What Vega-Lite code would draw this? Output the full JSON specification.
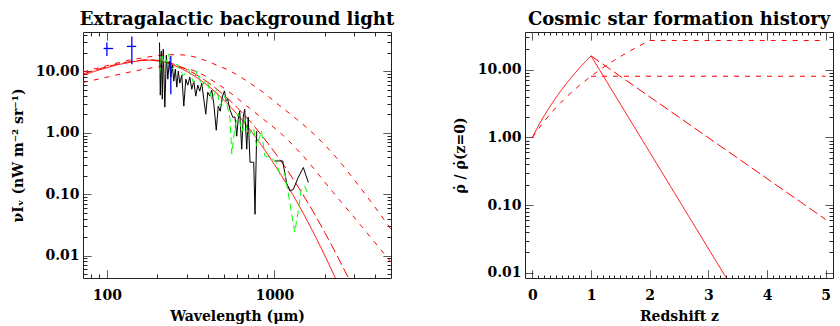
{
  "$schema": "https://vega.github.io/schema/vega-lite/v6.json",
  "background": "white",
  "padding": {"left": 10, "top": 10, "right": 5, "bottom": 2},
  "spacing": 57,
  "config": {
    "font": "DejaVu Serif",
    "view": {"stroke": "#222", "strokeWidth": 1},
    "title": {"font": "DejaVu Serif", "fontSize": 18, "fontWeight": "bold", "color": "black", "offset": 3},
    "axis": {"labelFont": "DejaVu Serif", "labelFontSize": 14, "labelFontWeight": "bold", "labelColor": "black", "titleFont": "DejaVu Serif", "titleFontSize": 14, "titleFontWeight": "bold", "titleColor": "black", "domain": false, "grid": false, "tickColor": "#222", "tickWidth": 1, "tickSize": -8}
  },
  "hconcat": [
    {
      "width": 308, "height": 246,
      "title": "Extragalactic background light",
      "resolve": {"axis": {"x": "independent", "y": "independent"}},
      "layer": [
        {
          "data": {"values": [
            {"s": "S", "lam": 72, "v": 8.67}, {"s": "S", "lam": 80, "v": 9.56}, {"s": "S", "lam": 90, "v": 10.6}, {"s": "S", "lam": 100, "v": 11.5}, {"s": "S", "lam": 115, "v": 12.8}, {"s": "S", "lam": 130, "v": 13.7}, {"s": "S", "lam": 150, "v": 14.7}, {"s": "S", "lam": 175, "v": 15.3}, {"s": "S", "lam": 200, "v": 14.9}, {"s": "S", "lam": 250, "v": 12.7}, {"s": "S", "lam": 300, "v": 10.0}, {"s": "S", "lam": 400, "v": 5.89}, {"s": "S", "lam": 500, "v": 3.40}, {"s": "S", "lam": 600, "v": 2.00}, {"s": "S", "lam": 700, "v": 1.21}, {"s": "S", "lam": 800, "v": 0.743}, {"s": "S", "lam": 1000, "v": 0.306}, {"s": "S", "lam": 1200, "v": 0.137}, {"s": "S", "lam": 1400, "v": 0.0659}, {"s": "S", "lam": 1700, "v": 0.0244}, {"s": "S", "lam": 2000, "v": 0.0100}, {"s": "S", "lam": 2400, "v": 0.00345},
            {"s": "L", "lam": 72, "v": 9.10}, {"s": "L", "lam": 80, "v": 10.0}, {"s": "L", "lam": 90, "v": 11.03}, {"s": "L", "lam": 100, "v": 11.93}, {"s": "L", "lam": 115, "v": 13.1}, {"s": "L", "lam": 130, "v": 14.07}, {"s": "L", "lam": 150, "v": 14.97}, {"s": "L", "lam": 175, "v": 15.56}, {"s": "L", "lam": 200, "v": 15.2}, {"s": "L", "lam": 250, "v": 13.2}, {"s": "L", "lam": 300, "v": 10.74}, {"s": "L", "lam": 400, "v": 6.69}, {"s": "L", "lam": 500, "v": 4.12}, {"s": "L", "lam": 600, "v": 2.58}, {"s": "L", "lam": 700, "v": 1.65}, {"s": "L", "lam": 800, "v": 1.07}, {"s": "L", "lam": 1000, "v": 0.49}, {"s": "L", "lam": 1200, "v": 0.241}, {"s": "L", "lam": 1400, "v": 0.126}, {"s": "L", "lam": 1700, "v": 0.0524}, {"s": "L", "lam": 2000, "v": 0.0237}, {"s": "L", "lam": 2400, "v": 0.00925}, {"s": "L", "lam": 2780, "v": 0.0042}, {"s": "L", "lam": 3050, "v": 0.0025},
            {"s": "B", "lam": 72, "v": 6.62}, {"s": "B", "lam": 100, "v": 8.07}, {"s": "B", "lam": 131.6, "v": 9.56}, {"s": "B", "lam": 173.2, "v": 11.1}, {"s": "B", "lam": 212.7, "v": 11.97}, {"s": "B", "lam": 261.5, "v": 11.75}, {"s": "B", "lam": 344, "v": 9.92}, {"s": "B", "lam": 452, "v": 6.44}, {"s": "B", "lam": 543, "v": 4.54}, {"s": "B", "lam": 683, "v": 2.75}, {"s": "B", "lam": 859, "v": 1.67}, {"s": "B", "lam": 1079, "v": 1.01}, {"s": "B", "lam": 1422, "v": 0.477}, {"s": "B", "lam": 2249, "v": 0.106}, {"s": "B", "lam": 3316, "v": 0.0299}, {"s": "B", "lam": 4970, "v": 0.0078},
            {"s": "A", "lam": 72, "v": 9.85}, {"s": "A", "lam": 100, "v": 12.4}, {"s": "A", "lam": 131.6, "v": 15.0}, {"s": "A", "lam": 173.2, "v": 17.1}, {"s": "A", "lam": 212.7, "v": 18.4}, {"s": "A", "lam": 261.5, "v": 18.8}, {"s": "A", "lam": 344, "v": 16.9}, {"s": "A", "lam": 413, "v": 14.0}, {"s": "A", "lam": 543, "v": 10.2}, {"s": "A", "lam": 683, "v": 7.03}, {"s": "A", "lam": 859, "v": 4.54}, {"s": "A", "lam": 1079, "v": 2.75}, {"s": "A", "lam": 1358, "v": 1.67}, {"s": "A", "lam": 1559, "v": 1.22}, {"s": "A", "lam": 2249, "v": 0.448}, {"s": "A", "lam": 3316, "v": 0.12}, {"s": "A", "lam": 4970, "v": 0.0268}
          ]},
          "mark": {"type": "line", "color": "#ff0000", "strokeWidth": 1, "clip": true, "interpolate": "monotone"},
          "encoding": {
            "x": {"field": "lam", "type": "quantitative", "title": "Wavelength (\u03bcm)",
                  "scale": {"type": "log", "domain": [72, 4970], "nice": false},
                  "axis": {"orient": "bottom", "values": [80,90,100,200,300,400,500,600,700,800,900,1000,2000,3000,4000], "labelExpr": "datum.value == 100 || datum.value == 1000 ? datum.value : ''", "labelPadding": 18, "titlePadding": 7, "labelFlush": false,
                           "tickDash": {"condition": {"test": "datum.value == 100 || datum.value == 1000", "value": [1, 0]}, "value": [4, 20]}}},
            "y": {"field": "v", "type": "quantitative", "title": "\u03bdI\u1d65 (nW m\u207b\u00b2 sr\u207b\u00b9)",
                  "scale": {"type": "log", "domain": [0.0043, 44], "nice": false},
                  "axis": {"orient": "left", "values": [0.005,0.006,0.007,0.008,0.009,0.01,0.02,0.03,0.04,0.05,0.06,0.07,0.08,0.09,0.1,0.2,0.3,0.4,0.5,0.6,0.7,0.8,0.9,1,2,3,4,5,6,7,8,9,10,20,30,40], "labelExpr": "(datum.value == 0.01 || datum.value == 0.1 || datum.value == 1 || datum.value == 10) ? format(datum.value, '.2f') : ''", "labelPadding": 12, "titlePadding": 10, "labelFlush": false,
                           "tickDash": {"condition": {"test": "datum.value == 0.01 || datum.value == 0.1 || datum.value == 1 || datum.value == 10", "value": [1, 0]}, "value": [4, 20]}}},
            "strokeDash": {"field": "s", "type": "nominal", "legend": null, "scale": {"domain": ["S", "L", "B", "A"], "range": [[1, 0], [10, 4], [5, 6], [5, 6]]}}
          }
        },
        {
          "data": {"values": [
            {"g": 1, "lam": 206.2, "v": 29.7}, {"g": 1, "lam": 208.4, "v": 4.11}, {"g": 1, "lam": 211.3, "v": 21.4}, {"g": 1, "lam": 214.2, "v": 3.53}, {"g": 1, "lam": 217.1, "v": 23.1}, {"g": 1, "lam": 221.8, "v": 2.62}, {"g": 1, "lam": 226.4, "v": 18.4}, {"g": 1, "lam": 231.1, "v": 7.49}, {"g": 1, "lam": 235.9, "v": 14.7}, {"g": 1, "lam": 240.8, "v": 8.07}, {"g": 1, "lam": 245.8, "v": 12.7}, {"g": 1, "lam": 250.9, "v": 6.95}, {"g": 1, "lam": 256.2, "v": 10.9}, {"g": 1, "lam": 261.5, "v": 5.55}, {"g": 1, "lam": 266.9, "v": 10.1}, {"g": 1, "lam": 272.5, "v": 6.44}, {"g": 1, "lam": 280.0, "v": 8.71}, {"g": 1, "lam": 287.9, "v": 2.72}, {"g": 1, "lam": 295.9, "v": 7.49}, {"g": 1, "lam": 304.1, "v": 5.98}, {"g": 1, "lam": 312.6, "v": 8.07}, {"g": 1, "lam": 321.3, "v": 5.14}, {"g": 1, "lam": 330.3, "v": 6.95}, {"g": 1, "lam": 339.4, "v": 3.96}, {"g": 1, "lam": 348.8, "v": 5.98}, {"g": 1, "lam": 358.6, "v": 4.77}, {"g": 1, "lam": 368.6, "v": 6.44}, {"g": 1, "lam": 378.9, "v": 3.53}, {"g": 1, "lam": 389.4, "v": 2.01}, {"g": 1, "lam": 400.3, "v": 4.60}, {"g": 1, "lam": 411.4, "v": 3.96}, {"g": 1, "lam": 422.8, "v": 4.95}, {"g": 1, "lam": 434.5, "v": 3.04}, {"g": 1, "lam": 449.8, "v": 1.10}, {"g": 1, "lam": 462.3, "v": 2.72}, {"g": 1, "lam": 475.2, "v": 2.25}, {"g": 1, "lam": 488.4, "v": 3.81}, {"g": 1, "lam": 503.4, "v": 4.83}, {"g": 1, "lam": 516.0, "v": 3.28}, {"g": 1, "lam": 526.7, "v": 3.53}, {"g": 1, "lam": 541.4, "v": 2.43}, {"g": 1, "lam": 564.1, "v": 1.80}, {"g": 1, "lam": 582.2, "v": 1.80}, {"g": 1, "lam": 596.1, "v": 0.88}, {"g": 1, "lam": 608.4, "v": 1.67}, {"g": 1, "lam": 621.1, "v": 2.25}, {"g": 1, "lam": 638.3, "v": 0.54}, {"g": 1, "lam": 651.7, "v": 1.80}, {"g": 1, "lam": 665.3, "v": 2.43}, {"g": 1, "lam": 683.8, "v": 0.54}, {"g": 1, "lam": 698.1, "v": 1.80}, {"g": 1, "lam": 715.6, "v": 0.332}, {"g": 1, "lam": 737.5, "v": 0.332}, {"g": 1, "lam": 752.9, "v": 0.332}, {"g": 1, "lam": 766.3, "v": 0.047}, {"g": 1, "lam": 784.5, "v": 1.07},
            {"g": 2, "lam": 1008, "v": 0.348}, {"g": 2, "lam": 1121, "v": 0.348}, {"g": 2, "lam": 1184, "v": 0.150}, {"g": 2, "lam": 1239, "v": 0.113}, {"g": 2, "lam": 1298, "v": 0.120}, {"g": 2, "lam": 1390, "v": 0.189}, {"g": 2, "lam": 1489, "v": 0.272}, {"g": 2, "lam": 1595, "v": 0.155}
          ]},
          "mark": {"type": "line", "color": "black", "strokeWidth": 1, "clip": true},
          "encoding": {"x": {"field": "lam", "type": "quantitative", "axis": null}, "y": {"field": "v", "type": "quantitative", "axis": null}, "detail": {"field": "g", "type": "nominal"}}
        },
        {
          "data": {"values": [
            {"lam": 206.2, "v": 9.0}, {"lam": 212.7, "v": 19.2}, {"lam": 222.4, "v": 12.3}, {"lam": 233.2, "v": 19.2}, {"lam": 244.1, "v": 10.9}, {"lam": 261.5, "v": 13.2}, {"lam": 286.4, "v": 8.5}, {"lam": 306.9, "v": 10.9}, {"lam": 328.9, "v": 6.6}, {"lam": 344.3, "v": 10.2}, {"lam": 368.6, "v": 5.8}, {"lam": 394.9, "v": 7.5}, {"lam": 422.8, "v": 3.5}, {"lam": 452.7, "v": 5.1}, {"lam": 474.1, "v": 2.75}, {"lam": 507.6, "v": 4.0}, {"lam": 543.5, "v": 1.67}, {"lam": 556.9, "v": 0.45}, {"lam": 582.5, "v": 1.3}, {"lam": 610.4, "v": 2.1}, {"lam": 638.3, "v": 1.0}, {"lam": 667.8, "v": 1.67}, {"lam": 699.3, "v": 0.89}, {"lam": 748.6, "v": 1.22}, {"lam": 783.4, "v": 0.61}, {"lam": 838.5, "v": 1.07}, {"lam": 876.9, "v": 0.42}, {"lam": 939.0, "v": 0.40}, {"lam": 1029, "v": 0.33}, {"lam": 1078, "v": 0.21}, {"lam": 1154, "v": 0.225}, {"lam": 1208, "v": 0.107}, {"lam": 1264, "v": 0.050}, {"lam": 1323, "v": 0.024}, {"lam": 1385, "v": 0.050}, {"lam": 1449, "v": 0.121}, {"lam": 1516, "v": 0.137}, {"lam": 1589, "v": 0.10}
          ]},
          "mark": {"type": "line", "color": "#00ff00", "strokeWidth": 1, "strokeDash": [7, 4], "clip": true},
          "encoding": {"x": {"field": "lam", "type": "quantitative", "axis": null}, "y": {"field": "v", "type": "quantitative", "axis": null}}
        },
        {
          "data": {"values": [
            {"lam": 100, "lo": 17.9, "hi": 29.7, "v": 23.7, "l1": 95.6, "l2": 109},
            {"lam": 140.9, "lo": 13.1, "hi": 37.2, "v": 25.6, "l1": 131.6, "l2": 149.5},
            {"lam": 240.8, "lo": 4.26, "hi": 17.9, "v": 11.6, "l1": 238, "l2": 244}
          ]},
          "layer": [
            {"mark": {"type": "rule", "color": "#0000ff", "strokeWidth": 1.3}, "encoding": {"x": {"field": "lam", "type": "quantitative", "axis": null}, "y": {"field": "lo", "type": "quantitative", "axis": null}, "y2": {"field": "hi"}}},
            {"mark": {"type": "rule", "color": "#0000ff", "strokeWidth": 1.3}, "encoding": {"x": {"field": "l1", "type": "quantitative", "axis": null}, "x2": {"field": "l2"}, "y": {"field": "v", "type": "quantitative", "axis": null}}}
          ]
        },
        {
          "data": {"values": [{"lam": 100, "v": 1}]},
          "mark": {"type": "point", "opacity": 0},
          "encoding": {
            "x": {"field": "lam", "type": "quantitative", "axis": {"orient": "top", "title": null, "labels": false, "values": [80,90,100,200,300,400,500,600,700,800,900,1000,2000,3000,4000], "tickDash": {"condition": {"test": "datum.value == 100 || datum.value == 1000", "value": [1, 0]}, "value": [4, 20]}}},
            "y": {"field": "v", "type": "quantitative", "axis": {"orient": "right", "title": null, "labels": false, "values": [0.005,0.006,0.007,0.008,0.009,0.01,0.02,0.03,0.04,0.05,0.06,0.07,0.08,0.09,0.1,0.2,0.3,0.4,0.5,0.6,0.7,0.8,0.9,1,2,3,4,5,6,7,8,9,10,20,30,40], "tickDash": {"condition": {"test": "datum.value == 0.01 || datum.value == 0.1 || datum.value == 1 || datum.value == 10", "value": [1, 0]}, "value": [4, 20]}}}
          }
        }
      ]
    },
    {
      "width": 308, "height": 246,
      "title": "Cosmic star formation history",
      "resolve": {"axis": {"x": "independent", "y": "independent"}},
      "layer": [
        {
          "data": {"values": [
            {"s": "S", "z": 0, "r": 1}, {"s": "S", "z": 0.1, "r": 1.464}, {"s": "S", "z": 0.2, "r": 2.074}, {"s": "S", "z": 0.3, "r": 2.856}, {"s": "S", "z": 0.4, "r": 3.842}, {"s": "S", "z": 0.5, "r": 5.063}, {"s": "S", "z": 0.6, "r": 6.554}, {"s": "S", "z": 0.7, "r": 8.352}, {"s": "S", "z": 0.8, "r": 10.5}, {"s": "S", "z": 0.9, "r": 13.03}, {"s": "S", "z": 1.0, "r": 16}, {"s": "S", "z": 3.5, "r": 0.00446},
            {"s": "L", "z": 1.0, "r": 16}, {"s": "L", "z": 5.0, "r": 0.0614},
            {"s": "A", "z": 0, "r": 1}, {"s": "A", "z": 0.2, "r": 1.728}, {"s": "A", "z": 0.4, "r": 2.744}, {"s": "A", "z": 0.6, "r": 4.096}, {"s": "A", "z": 0.8, "r": 5.832}, {"s": "A", "z": 1.0, "r": 8}, {"s": "A", "z": 1.2, "r": 10.65}, {"s": "A", "z": 1.4, "r": 13.82}, {"s": "A", "z": 1.6, "r": 17.58}, {"s": "A", "z": 1.8, "r": 21.95}, {"s": "A", "z": 2.0, "r": 27}, {"s": "A", "z": 5.0, "r": 27},
            {"s": "B", "z": 1.0, "r": 8}, {"s": "B", "z": 5.0, "r": 8}
          ]},
          "mark": {"type": "line", "color": "#ff0000", "strokeWidth": 1, "clip": true},
          "encoding": {
            "x": {"field": "z", "type": "quantitative", "title": "Redshift z",
                  "scale": {"domain": [-0.125, 5.125], "nice": false, "zero": false},
                  "axis": {"orient": "bottom", "values": [0,0.1,0.2,0.3,0.4,0.5,0.6,0.7,0.8,0.9,1,1.1,1.2,1.3,1.4,1.5,1.6,1.7,1.8,1.9,2,2.1,2.2,2.3,2.4,2.5,2.6,2.7,2.8,2.9,3,3.1,3.2,3.3,3.4,3.5,3.6,3.7,3.8,3.9,4,4.1,4.2,4.3,4.4,4.5,4.6,4.7,4.8,4.9,5], "labelExpr": "abs(datum.value - round(datum.value)) < 0.001 ? round(datum.value) : ''", "labelPadding": 18, "titlePadding": 7, "labelFlush": false,
                           "tickDash": {"condition": {"test": "abs(datum.value - round(datum.value)) < 0.001", "value": [1, 0]}, "value": [3, 20]}}},
            "y": {"field": "r", "type": "quantitative", "title": "\u03c1\u0307 / \u03c1\u0307(z=0)",
                  "scale": {"type": "log", "domain": [0.0084, 36], "nice": false},
                  "axis": {"orient": "left", "values": [0.01,0.02,0.03,0.04,0.05,0.06,0.07,0.08,0.09,0.1,0.2,0.3,0.4,0.5,0.6,0.7,0.8,0.9,1,2,3,4,5,6,7,8,9,10,20,30], "labelExpr": "(datum.value == 0.01 || datum.value == 0.1 || datum.value == 1 || datum.value == 10) ? format(datum.value, '.2f') : ''", "labelPadding": 12, "titlePadding": 10, "labelFlush": false,
                           "tickDash": {"condition": {"test": "datum.value == 0.01 || datum.value == 0.1 || datum.value == 1 || datum.value == 10", "value": [1, 0]}, "value": [4, 20]}}},
            "strokeDash": {"field": "s", "type": "nominal", "legend": null, "scale": {"domain": ["S", "L", "A", "B"], "range": [[1, 0], [20, 7], [12, 6], [12, 6]]}}
          }
        },
        {
          "data": {"values": [{"z": 1, "r": 1}]},
          "mark": {"type": "point", "opacity": 0},
          "encoding": {
            "x": {"field": "z", "type": "quantitative", "axis": {"orient": "top", "title": null, "labels": false, "values": [0,0.1,0.2,0.3,0.4,0.5,0.6,0.7,0.8,0.9,1,1.1,1.2,1.3,1.4,1.5,1.6,1.7,1.8,1.9,2,2.1,2.2,2.3,2.4,2.5,2.6,2.7,2.8,2.9,3,3.1,3.2,3.3,3.4,3.5,3.6,3.7,3.8,3.9,4,4.1,4.2,4.3,4.4,4.5,4.6,4.7,4.8,4.9,5], "tickDash": {"condition": {"test": "abs(datum.value - round(datum.value)) < 0.001", "value": [1, 0]}, "value": [3, 20]}}},
            "y": {"field": "r", "type": "quantitative", "axis": {"orient": "right", "title": null, "labels": false, "values": [0.01,0.02,0.03,0.04,0.05,0.06,0.07,0.08,0.09,0.1,0.2,0.3,0.4,0.5,0.6,0.7,0.8,0.9,1,2,3,4,5,6,7,8,9,10,20,30], "tickDash": {"condition": {"test": "datum.value == 0.01 || datum.value == 0.1 || datum.value == 1 || datum.value == 10", "value": [1, 0]}, "value": [4, 20]}}}
          }
        }
      ]
    }
  ]
}
